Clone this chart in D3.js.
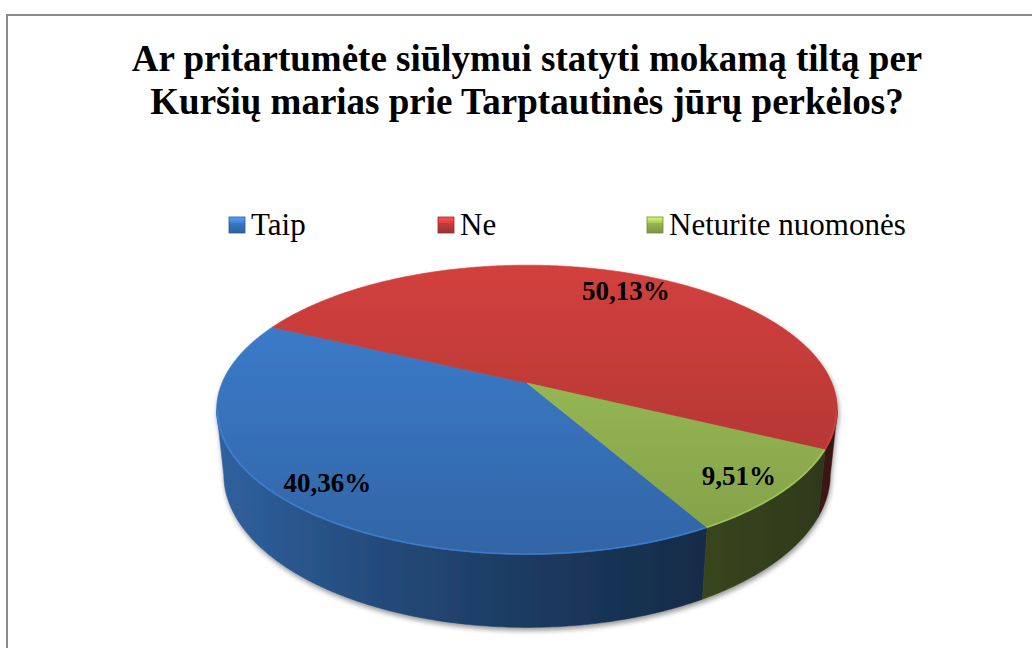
<!DOCTYPE html>
<html>
<head>
<meta charset="utf-8">
<script src="https://cdn.jsdelivr.net/npm/d3@7"></script>
<style>
    body { margin: 0; background: #fff; }
    svg text { font-family: "Liberation Serif", "Times New Roman", serif; }
</style>
</head>
<body>
<script>
// chart values
var categories = ["Taip", "Ne", "Neturite nuomonės"];
var shares = [40.36, 50.13, 9.51];
var shareLabels = ["40,36%", "50,13%", "9,51%"];
var titleLines = ["Ar pritartumėte siūlymui statyti mokamą tiltą per",
                  "Kuršių marias prie Tarptautinės jūrų perkėlos?"];
var baseColors = ["#3a77c3", "#c43c39", "#98b954"];

(function() {
    var width = 1032,
        height = 648,
        cx = 527, cy = 383,      // centre of the top face
        R = 305,                 // pie radius
        depth = 73,              // thickness of the pie
        sinA = 0.458, cosA = Math.sqrt(1 - 0.458 * 0.458), // tilt
        camera = 1459,           // perspective distance
        firstAngle = 150.3 * Math.PI / 180,
        labelRadius = 0.85;

    var svg = d3.select("body").append("svg")
                .attr("width", width)
                .attr("height", height);

    var defs = svg.append("defs");

    var color = d3.scaleOrdinal().domain(categories).range(baseColors);

    // frame of the chart area (runs off the page right and bottom)
    svg.append("rect")
       .attr("x", 7).attr("y", 15)
       .attr("width", 1040).attr("height", 700)
       .style("fill", "none")
       .style("stroke", "#8a8a8a")
       .style("stroke-width", 2);

    svg.selectAll(".title")
       .data(titleLines)
       .enter().append("text")
       .attr("class", "title")
       .attr("x", cx)
       .attr("y", function(d, i) {return 71 + i * 43; })
       .attr("text-anchor", "middle")
       .style("font-size", "37px")
       .style("font-weight", "bold")
       .text(function(d) {return d; });

    // projection of a point of the disc (theta clockwise from 12 o'clock)
    function project(theta, r, down) {
        var x = R * r * Math.sin(theta),
            z = -R * r * Math.cos(theta),
            yr = z * sinA + down * cosA,
            zr = z * cosA - down * sinA,
            s = camera / (camera - zr);
        return [cx + x * s, cy + yr * s];
    }

    function arcPoints(a0, a1, r, down) {
        var n = Math.max(2, Math.ceil(Math.abs(a1 - a0) / 0.01)),
            pts = [];
        for (var i = 0; i <= n; i += 1) {
            pts.push(project(a0 + (a1 - a0) * i / n, r, down));
        }
        return pts;
    }

    var line = d3.line();

    var pie = d3.pie()
                .sort(null)
                .startAngle(firstAngle)
                .endAngle(firstAngle + 2 * Math.PI);

    var slices = pie(shares);
    slices.forEach(function(d, i) {d.name = categories[i]; d.label = shareLabels[i]; });

    // gradients: top face vertical, side wall horizontal
    var topY0 = project(0, 1, 0)[1],
        topY1 = project(Math.PI, 1, 0)[1];

    slices.forEach(function(d, i) {
        var c = d3.color(color(d.name));
        var gt = defs.append("linearGradient")
                     .attr("id", "top" + i)
                     .attr("gradientUnits", "userSpaceOnUse")
                     .attr("x1", 0).attr("x2", 0)
                     .attr("y1", topY0).attr("y2", topY1);
        gt.append("stop").attr("offset", 0).attr("stop-color", c.brighter(0.2));
        gt.append("stop").attr("offset", 1).attr("stop-color", c.darker(0.45));

        var gs = defs.append("linearGradient")
                     .attr("id", "side" + i)
                     .attr("gradientUnits", "userSpaceOnUse")
                     .attr("x1", cx - R).attr("x2", cx + R + 8)
                     .attr("y1", 0).attr("y2", 0);
        for (var t = 0; t <= 1.0001; t += 0.25) {
            gs.append("stop").attr("offset", t).attr("stop-color", c.darker(0.6 + 2.8 * t));
        }

        // legend marker: light bevel on top, darker body
        var gl = defs.append("linearGradient")
                     .attr("id", "leg" + i)
                     .attr("x1", 0).attr("x2", 0)
                     .attr("y1", 0).attr("y2", 1);
        gl.append("stop").attr("offset", 0).attr("stop-color", c.brighter(0.9));
        gl.append("stop").attr("offset", 0.35).attr("stop-color", c.brighter(0.3));
        gl.append("stop").attr("offset", 0.36).attr("stop-color", c);
        gl.append("stop").attr("offset", 1).attr("stop-color", c.darker(0.6));
    });

    var shadow = defs.append("filter")
                     .attr("id", "pieShadow")
                     .attr("x", "-10%").attr("y", "-10%")
                     .attr("width", "120%").attr("height", "130%");
    shadow.append("feDropShadow")
          .attr("dx", 1).attr("dy", 3)
          .attr("stdDeviation", 2.5)
          .attr("flood-color", "#000")
          .attr("flood-opacity", 0.4);

    var pieG = svg.append("g").attr("filter", "url(#pieShadow)");

    // visible part of the wall lies between the silhouette angles
    var k = R * cosA / camera,
        vis0 = Math.acos(-k),
        vis1 = 2 * Math.PI - vis0;

    function visibleRange(d) {
        var out = [];
        [0, 2 * Math.PI].forEach(function(off) {
            var a0 = Math.max(d.startAngle, vis0 + off),
                a1 = Math.min(d.endAngle, vis1 + off);
            if (a1 > a0) {
                out.push([a0, a1]);
            }
        });
        return out;
    }

    slices.forEach(function(d, i) {
        visibleRange(d).forEach(function(r) {
            var pts = arcPoints(r[0], r[1], 1, 0).concat(arcPoints(r[1], r[0], 1, depth));
            pieG.append("path")
                .attr("class", "side")
                .attr("d", line(pts) + "Z")
                .style("fill", "url(#side" + i + ")")
                .style("stroke", "url(#side" + i + ")")
                .style("stroke-width", 0.6);
        });
    });

    // top faces
    pieG.selectAll(".topFace")
        .data(slices)
        .enter().append("path")
        .attr("class", "topFace")
        .attr("d", function(d) {
            var pts = [project(0, 0, 0)].concat(arcPoints(d.startAngle, d.endAngle, 1, 0));
            return line(pts) + "Z";
        })
        .style("fill", function(d, i) {return "url(#top" + i + ")"; })
        .style("stroke", function(d, i) {return "url(#top" + i + ")"; })
        .style("stroke-width", 0.6);

    // faint bevel highlight on the front rim
    slices.forEach(function(d) {
        visibleRange(d).forEach(function(r) {
            pieG.append("path")
                .attr("d", line(arcPoints(r[0], r[1], 0.997, 0)))
                .style("fill", "none")
                .style("stroke", d3.color(color(d.name)).brighter(0.4))
                .style("stroke-opacity", 0.6)
                .style("stroke-width", 1.5);
        });
    });

    svg.selectAll(".sliceLabel")
       .data(slices)
       .enter().append("text")
       .attr("class", "sliceLabel")
       .attr("transform", function(d) {
           var p = project((d.startAngle + d.endAngle) / 2, labelRadius, 0);
           return "translate(" + p[0] + "," + p[1] + ")";
       })
       .attr("text-anchor", "middle")
       .attr("dy", "0.4em")
       .style("font-size", "27px")
       .style("font-weight", "bold")
       .text(function(d) {return d.label; });

    // legend
    var legendX = d3.scaleBand()
                    .domain(categories)
                    .range([229, 229 + 3 * 209]);

    var legend = svg.selectAll(".legendItem")
                    .data(categories)
                    .enter().append("g")
                    .attr("class", "legendItem")
                    .attr("transform", function(d) {return "translate(" + legendX(d) + ",217)"; });

    legend.append("rect")
          .attr("width", 16)
          .attr("height", 16)
          .style("fill", function(d, i) {return "url(#leg" + i + ")"; })
          .style("stroke", function(d) {return d3.color(color(d)).darker(0.8); })
          .style("stroke-width", 0.8);

    legend.append("text")
          .attr("x", 22)
          .attr("y", 18)
          .style("font-size", "31px")
          .text(function(d) {return d; });
})();
</script>
</body>
</html>
